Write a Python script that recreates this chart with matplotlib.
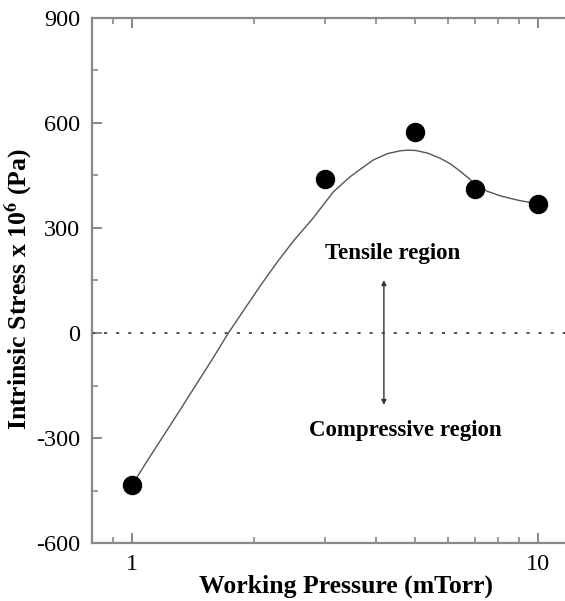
import numpy as np
import matplotlib
matplotlib.use("Agg")
import matplotlib.pyplot as plt
from matplotlib.ticker import FixedLocator, NullFormatter, MultipleLocator

plt.rcParams['font.family'] = ['Liberation Serif', 'DejaVu Serif']
plt.rcParams['mathtext.fontset'] = 'stix'
plt.rcParams['axes.unicode_minus'] = False

# measured data points
pressure = [1, 3, 5, 7, 10]
stress = [-435, 440, 573, 410, 368]

# smooth fit curve
curve_x = [1.0, 1.096, 1.202, 1.318, 1.445, 1.585, 1.730, 1.905, 2.089, 2.291,
           2.512, 2.799, 3.006, 3.139, 3.450, 3.715, 3.936, 4.266, 4.581, 4.786,
           5.012, 5.370, 5.746, 6.095, 6.437, 6.761, 7.008, 7.499, 8.072, 8.511,
           9.036, 9.550, 10.0]
curve_y = [-435, -362, -290, -218, -145, -72, 0, 72, 140, 205,
           265, 328, 375, 403, 446, 473, 494, 512, 520, 522,
           521, 513, 499, 483, 462, 442, 426, 405, 392, 385,
           378, 373, 370]

x_ticks = [1, 10]
x_ticklabels = ['1', '10']
x_minor = [0.9, 2, 3, 4, 5, 6, 7, 8, 9]
y_ticks = [-600, -300, 0, 300, 600, 900]

fig = plt.figure(figsize=(5.65, 6.01), dpi=100)
ax = fig.add_axes([0.1635, 0.0960, 0.8450, 0.8746])
ax.set_xscale('log')
ax.set_xlim(0.8, 12)
ax.set_ylim(-600, 900)

ax.axhline(0, color='#222222', lw=1.1, ls=(0, (2, 5.9)))
ax.plot(curve_x, curve_y, color='#555555', lw=1.0)
ax.plot(pressure, stress, 'o', color='black', markersize=13, zorder=3)

# double-headed arrow
ax.annotate('', xy=(4.18, 151), xytext=(4.18, -205),
            arrowprops=dict(arrowstyle='<|-|>', color='#333333', lw=1.0,
                            mutation_scale=7, shrinkA=0, shrinkB=0))
ax.text(4.40, 226, 'Tensile region', ha='center', va='center',
        fontsize=16.5, fontweight='bold')
ax.text(4.71, -277, 'Compressive region', ha='center', va='center',
        fontsize=16.5, fontweight='bold')

ax.xaxis.set_major_locator(FixedLocator(x_ticks))
ax.set_xticklabels(x_ticklabels)
ax.xaxis.set_minor_locator(FixedLocator(x_minor))
ax.xaxis.set_minor_formatter(NullFormatter())
ax.set_yticks(y_ticks)
ax.yaxis.set_minor_locator(MultipleLocator(150))

spine_c = '#888888'
for s in ['left', 'bottom', 'top']:
    ax.spines[s].set_color(spine_c)
    ax.spines[s].set_linewidth(1.6)
ax.spines['right'].set_visible(False)

ax.tick_params(which='both', direction='in', top=True, right=False,
               color=spine_c, labelsize=17.5)
ax.tick_params(which='major', length=7, width=1.4)
ax.tick_params(which='minor', length=4, width=1.2)
ax.tick_params(axis='y', pad=9)
ax.tick_params(axis='x', pad=8)

ax.set_xlabel('Working Pressure (mTorr)', fontsize=18.5, fontweight='bold')
ax.set_ylabel(r'Intrinsic Stress x 10$^{\mathbf{6}}$ (Pa)', fontsize=18.5,
              fontweight='bold')
ax.xaxis.set_label_coords(0.531, -0.060)
ax.yaxis.set_label_coords(-0.122, 0.483)

fig.savefig('out.png', dpi=100)
